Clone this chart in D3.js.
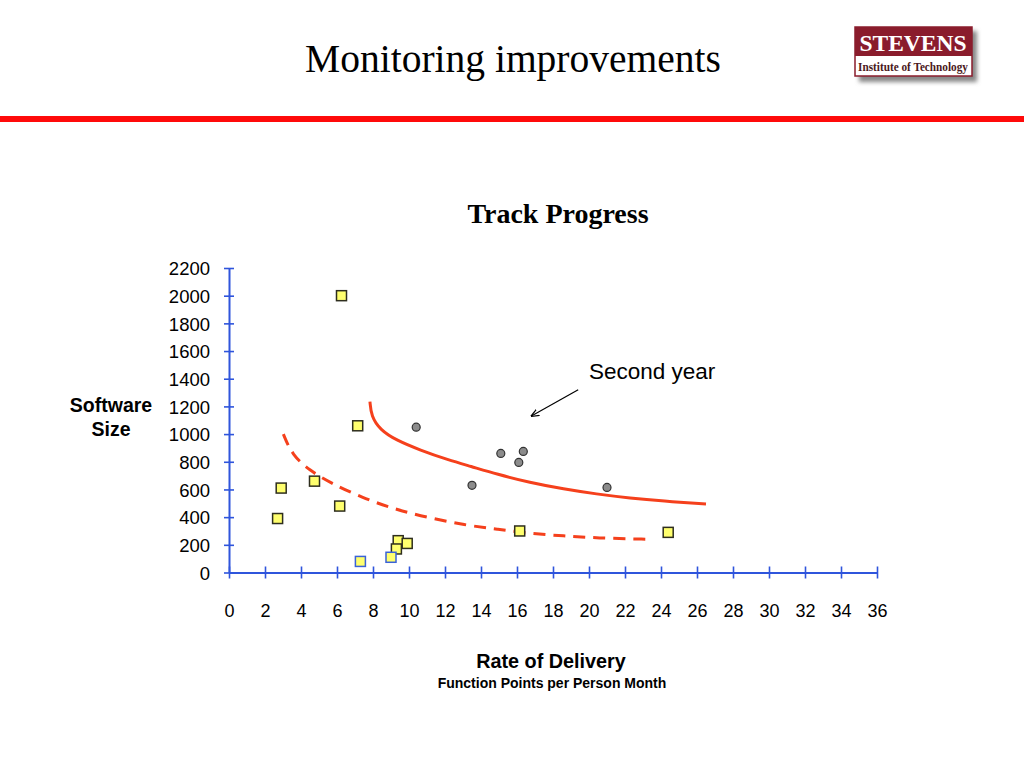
<!DOCTYPE html>
<html>
<head>
<meta charset="utf-8">
<script src="https://cdn.jsdelivr.net/npm/d3@7"></script>
<style>
  body { margin: 0; background: #fff; }
  svg { display: block; }
</style>
</head>
<body>
<div id="js-svg-container"></div>
<script>
// first year projects (squares), second year projects (circles)
let firstYear = [
    [6.25, 2000], [7.15, 1060], [2.9, 610], [2.7, 390], [4.75, 660],
    [6.15, 480], [9.4, 230], [9.3, 170], [9.9, 210], [16.15, 300], [24.4, 290]
];
let firstYearBlue = [[7.3, 80], [9.0, 110]];
let secondYear = [
    [10.4, 1050], [15.1, 860], [16.35, 875], [16.1, 795], [13.5, 630], [21.0, 615]
];
// hand drawn trend curves
let secondYearCurve = [
    [7.83, 1235], [7.9, 1130], [8.4, 1030], [9.3, 955], [10.6, 885], [12.2, 812],
    [13.4, 768], [14.9, 710], [16.7, 650], [18.6, 603], [20.4, 567], [22.3, 537],
    [24.1, 516], [26.5, 495]
];
let firstYearCurve = [
    [3.02, 1000], [3.5, 850], [4.5, 735], [5.6, 650], [7.4, 540], [9.2, 458],
    [11.1, 395], [13.1, 343], [14.9, 312], [16.7, 283], [18.6, 264], [20.4, 249],
    [23.4, 240]
];
let arrow = [[19.4, 1320], [16.8, 1130]];
let arrowLabel = 'Second year';
let xTicks = [0, 2, 4, 6, 8, 10, 12, 14, 16, 18, 20, 22, 24, 26, 28, 30, 32, 34, 36];
let yTicks = [0, 200, 400, 600, 800, 1000, 1200, 1400, 1600, 1800, 2000, 2200];

let width = 1024, height = 768;
let axisColor = '#2f55dc';
let curveColor = '#f5401c';

let svg = d3.select('#js-svg-container')
    .append('svg')
    .attr('width', width)
    .attr('height', height);

let defs = svg.append('defs');
defs.append('filter').attr('id', 'shadow')
    .append('feGaussianBlur').attr('stdDeviation', 2);
defs.append('marker')
    .attr('id', 'arrowhead')
    .attr('viewBox', '0 0 10 10')
    .attr('refX', 9).attr('refY', 5)
    .attr('markerWidth', 7).attr('markerHeight', 7)
    .attr('orient', 'auto')
    .append('path')
    .attr('d', 'M0,1 L10,5 L0,9')
    .attr('fill', 'none')
    .attr('stroke', '#000')
    .attr('stroke-width', 1.4);

// header
svg.append('text')
    .attr('x', 513).attr('y', 72)
    .attr('text-anchor', 'middle')
    .style('font-family', '"Liberation Serif", "Times New Roman", serif')
    .style('font-size', '39.5px')
    .text('Monitoring improvements');

svg.append('rect')
    .attr('x', 0).attr('y', 116)
    .attr('width', width).attr('height', 6)
    .attr('fill', '#ff0a0a');

// logo
let logo = svg.append('g');
logo.append('rect')
    .attr('x', 859).attr('y', 31).attr('width', 118).attr('height', 51)
    .attr('fill', '#888').attr('filter', 'url(#shadow)');
logo.append('rect')
    .attr('x', 855).attr('y', 27).attr('width', 117).attr('height', 49)
    .attr('fill', '#fff').attr('stroke', '#8a1c2c').attr('stroke-width', 1.5);
logo.append('rect')
    .attr('x', 855).attr('y', 27).attr('width', 117).attr('height', 29)
    .attr('fill', '#8a1c2c');
logo.append('text')
    .attr('x', 913).attr('y', 51)
    .attr('text-anchor', 'middle')
    .attr('fill', '#fff')
    .style('font-family', '"Liberation Serif", serif')
    .style('font-weight', 'bold')
    .style('font-size', '23.5px')
    .text('STEVENS');
logo.append('text')
    .attr('x', 913).attr('y', 71)
    .attr('text-anchor', 'middle')
    .attr('fill', '#4a1820')
    .attr('textLength', 110)
    .attr('lengthAdjust', 'spacingAndGlyphs')
    .style('font-family', '"Liberation Serif", serif')
    .style('font-weight', 'bold')
    .style('font-size', '13px')
    .text('Institute of Technology');

// chart
svg.append('text')
    .attr('x', 558).attr('y', 223)
    .attr('text-anchor', 'middle')
    .style('font-family', '"Liberation Serif", serif')
    .style('font-weight', 'bold')
    .style('font-size', '28px')
    .text('Track Progress');

let x = d3.scaleLinear().domain([0, 36]).range([229, 877]);
let y = d3.scaleLinear().domain([0, 2200]).range([572.5, 268]);

let sans = '"Liberation Sans", Arial, sans-serif';

let axisX = svg.append('g')
    .attr('transform', 'translate(0,' + y(0) + ')')
    .call(d3.axisBottom(x).tickValues(xTicks).tickSize(6).tickSizeOuter(0));
axisX.select('.domain').attr('stroke', axisColor).attr('stroke-width', 2);
axisX.selectAll('.tick line')
    .attr('y1', -6).attr('y2', 6)
    .attr('stroke', axisColor).attr('stroke-width', 1.6);
axisX.selectAll('.tick text')
    .attr('y', 44).attr('dy', 0)
    .style('font-family', sans).style('font-size', '18px').attr('fill', '#000');

let axisY = svg.append('g')
    .attr('transform', 'translate(' + x(0) + ',0)')
    .call(d3.axisLeft(y).tickValues(yTicks).tickFormat(d3.format('d')).tickSize(5).tickSizeOuter(0));
axisY.select('.domain').attr('stroke', axisColor).attr('stroke-width', 2);
axisY.selectAll('.tick line')
    .attr('x1', -5).attr('x2', 5)
    .attr('stroke', axisColor).attr('stroke-width', 1.6);
axisY.selectAll('.tick text')
    .attr('x', -19).attr('dy', '0.36em')
    .style('font-family', sans).style('font-size', '18.5px').attr('fill', '#000');

svg.append('text')
    .attr('text-anchor', 'middle')
    .style('font-family', sans).style('font-weight', 'bold').style('font-size', '19.5px')
    .selectAll('tspan')
    .data(['Software', 'Size'])
    .enter()
    .append('tspan')
    .attr('x', 111)
    .attr('y', (d, i) => 412 + i * 24)
    .text(d => d);

svg.append('text')
    .attr('x', 551).attr('y', 668)
    .attr('text-anchor', 'middle')
    .style('font-family', sans).style('font-weight', 'bold').style('font-size', '19.8px')
    .text('Rate of Delivery');
svg.append('text')
    .attr('x', 552).attr('y', 688)
    .attr('text-anchor', 'middle')
    .style('font-family', sans).style('font-weight', 'bold').style('font-size', '14px')
    .text('Function Points per Person Month');

// trend curves
let line = d3.line()
    .x(d => x(d[0]))
    .y(d => y(d[1]))
    .curve(d3.curveBasis);

svg.append('path')
    .datum(secondYearCurve)
    .attr('d', line)
    .attr('fill', 'none')
    .attr('stroke', curveColor)
    .attr('stroke-width', 3);

svg.append('path')
    .datum(firstYearCurve)
    .attr('d', line)
    .attr('fill', 'none')
    .attr('stroke', curveColor)
    .attr('stroke-width', 3)
    .attr('stroke-dasharray', '12,8');

// points
let sq = 10;
svg.selectAll('rect.first')
    .data(firstYear)
    .enter()
    .append('rect')
    .attr('class', 'first')
    .attr('x', d => x(d[0]) - sq / 2)
    .attr('y', d => y(d[1]) - sq / 2)
    .attr('width', sq).attr('height', sq)
    .attr('fill', '#ffff6e')
    .attr('stroke', '#2e2e1e')
    .attr('stroke-width', 1.5);

svg.selectAll('rect.firstBlue')
    .data(firstYearBlue)
    .enter()
    .append('rect')
    .attr('class', 'firstBlue')
    .attr('x', d => x(d[0]) - sq / 2)
    .attr('y', d => y(d[1]) - sq / 2)
    .attr('width', sq).attr('height', sq)
    .attr('fill', '#ffff6e')
    .attr('stroke', '#3a62d8')
    .attr('stroke-width', 1.5);

svg.selectAll('circle.second')
    .data(secondYear)
    .enter()
    .append('circle')
    .attr('class', 'second')
    .attr('cx', d => x(d[0]))
    .attr('cy', d => y(d[1]))
    .attr('r', 4)
    .attr('fill', '#8c8c8c')
    .attr('stroke', '#333')
    .attr('stroke-width', 1.2);

// annotation
svg.append('line')
    .attr('x1', x(arrow[0][0])).attr('y1', y(arrow[0][1]))
    .attr('x2', x(arrow[1][0])).attr('y2', y(arrow[1][1]))
    .attr('stroke', '#000')
    .attr('stroke-width', 1.2)
    .attr('marker-end', 'url(#arrowhead)');

svg.append('text')
    .attr('x', x(20.0)).attr('y', y(1400))
    .style('font-family', sans).style('font-size', '22.5px')
    .text(arrowLabel);
</script>
</body>
</html>
